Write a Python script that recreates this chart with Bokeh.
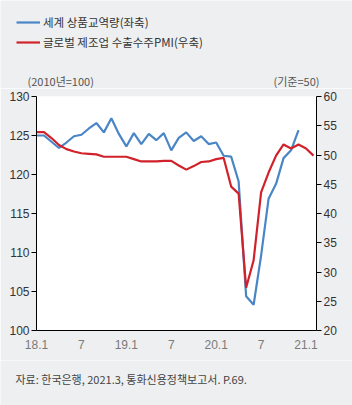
from bokeh.plotting import figure
from bokeh.layouts import column
from bokeh.models import (Range1d, LinearAxis, FixedTicker, Legend, LegendItem,
                          Label, ColumnDataSource)
from bokeh.embed import file_html
from bokeh.resources import INLINE

# ---- data ----
months_ticks = [0, 6, 12, 18, 24, 30, 36]
tick_labels = ["18.1", "7", "19.1", "7", "20.1", "7", "21.1"]

trade_volume = [125.0, 125.0, 124.2, 123.4, 124.1, 124.9, 125.1, 125.9, 126.6, 125.4, 127.2, 125.2,
                123.6, 125.3, 123.9, 125.2, 124.4, 125.3, 123.1, 124.7, 125.4, 124.3, 124.9, 123.9,
                124.1, 122.4, 122.3, 119.1, 104.4, 103.3, 109.6, 116.9, 118.8, 122.1, 123.1, 125.7]

pmi_export_orders = [53.9, 53.9, 52.9, 51.7, 51.0, 50.6, 50.3, 50.2, 50.1, 49.7, 49.7, 49.7,
                     49.7, 49.3, 48.9, 48.9, 48.9, 49.0, 49.0, 48.2, 47.5, 48.1, 48.8, 48.9,
                     49.3, 49.5, 44.6, 43.4, 27.3, 32.0, 43.6, 47.0, 49.9, 51.8, 51.1, 51.8,
                     51.1, 49.9]

name_trade = "세계 상품교역량(좌축)"
name_pmi = "글로벌 제조업 수출수주PMI(우축)"
left_unit = "(2010년=100)"
right_unit = "(기준=50)"
source_text = "자료: 한국은행, 2021.3, 통화신용정책보고서. P.69."

BLUE = "#4a86c6"
RED = "#d1222b"
BG = "#eeeff1"
NUM_FONT = "Liberation Sans"
KR_FONT = "Noto Sans CJK KR"
NAN = float("nan")


def blank(height):
    f = figure(width=352, height=height, output_backend="svg", toolbar_location=None,
               x_range=Range1d(0, 352), y_range=Range1d(0, height),
               x_axis_location=None, y_axis_location=None, frame_align=False,
               min_border_left=0, min_border_right=0, min_border_top=0, min_border_bottom=0)
    f.background_fill_color = BG
    f.border_fill_color = BG
    f.outline_line_color = None
    f.xgrid.visible = False
    f.ygrid.visible = False
    return f


# ---- top: legend and unit captions ----
top = blank(88)
lg_trade = top.line(x=[NAN], y=[NAN], line_color=BLUE, line_width=2.2)
lg_pmi = top.line(x=[NAN], y=[NAN], line_color=RED, line_width=2.2)
legend = Legend(items=[LegendItem(label=name_trade, renderers=[lg_trade]),
                       LegendItem(label=name_pmi, renderers=[lg_pmi])],
                location=(16, 38), orientation="vertical",
                glyph_width=24, glyph_height=14, label_height=14, spacing=4,
                padding=0, margin=0, label_standoff=3,
                border_line_color=None, background_fill_alpha=0,
                label_text_font=KR_FONT, label_text_font_size="11.5px",
                label_text_color="#333333")
top.add_layout(legend)
top.add_layout(Label(x=27, y=8, x_units="screen", y_units="screen", text=left_unit,
                     text_font=KR_FONT, text_font_size="11px", text_color="#555555",
                     text_baseline="middle", text_align="left"))
top.add_layout(Label(x=319, y=8, x_units="screen", y_units="screen", text=right_unit,
                     text_font=KR_FONT, text_font_size="11px", text_color="#555555",
                     text_baseline="middle", text_align="right"))

# ---- main chart ----
src_trade = ColumnDataSource(dict(x=list(range(len(trade_volume))), y=trade_volume))
src_pmi = ColumnDataSource(dict(x=list(range(len(pmi_export_orders))), y=pmi_export_orders))

p = figure(width=352, height=272, output_backend="svg", toolbar_location=None,
           x_range=Range1d(0, 37.4), y_range=Range1d(100, 130), frame_align=False,
           min_border_left=36, min_border_right=36, min_border_top=8, min_border_bottom=30)
p.extra_y_ranges = {"pmi": Range1d(20, 60)}
p.background_fill_color = "white"
p.border_fill_color = BG
p.outline_line_color = None
p.xgrid.visible = False
p.ygrid.visible = False

la = p.yaxis[0]
la.ticker = FixedTicker(ticks=[100, 105, 110, 115, 120, 125, 130])
ra = LinearAxis(y_range_name="pmi", ticker=FixedTicker(ticks=[20, 25, 30, 35, 40, 45, 50, 55, 60]))
p.add_layout(ra, "right")
for ax in (la, ra):
    ax.axis_line_color = "black"
    ax.major_tick_line_color = "black"
    ax.major_tick_out = 5
    ax.major_tick_in = 0
    ax.minor_tick_line_color = None
    ax.major_label_standoff = 2
    ax.major_label_text_font = NUM_FONT
    ax.major_label_text_font_size = "12px"
    ax.major_label_text_color = "#333333"

xa = p.xaxis[0]
xa.ticker = FixedTicker(ticks=months_ticks)
xa.major_label_overrides = {m: l for m, l in zip(months_ticks, tick_labels)}
xa.axis_line_color = "black"
xa.major_tick_line_color = None
xa.major_tick_out = 0
xa.major_tick_in = 0
xa.minor_tick_line_color = None
xa.major_label_standoff = 9
xa.major_label_text_font = NUM_FONT
xa.major_label_text_font_size = "12px"
xa.major_label_text_color = "#7a7a7a"

p.line("x", "y", source=src_trade, line_color=BLUE, line_width=2.2)
p.line("x", "y", source=src_pmi, line_color=RED, line_width=2.2, y_range_name="pmi")

# ---- bottom: source ----
bottom = blank(45)
bottom.add_layout(Label(x=15, y=27, x_units="screen", y_units="screen", text=source_text,
                        text_font=KR_FONT, text_font_size="11px", text_color="#444444",
                        text_baseline="middle", text_align="left"))

layout = column(top, p, bottom, spacing=0)
open("out.html", "w").write(file_html(layout, INLINE))
